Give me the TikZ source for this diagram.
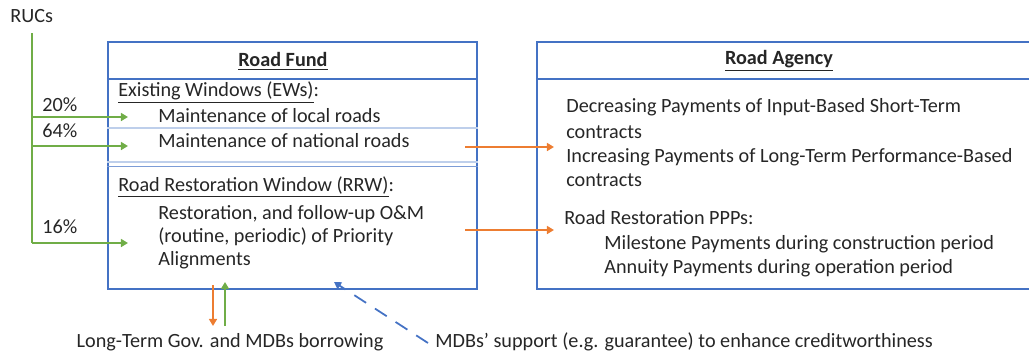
\documentclass[tikz,border=0pt]{standalone}
\usepackage{fontspec}
\setmainfont{Carlito}
\usetikzlibrary{arrows.meta}
\definecolor{boxblue}{RGB}{68,114,196}
\definecolor{lineblue}{RGB}{190,207,235}
\definecolor{rucgreen}{RGB}{112,173,71}
\definecolor{payorange}{RGB}{237,125,49}
\definecolor{textgrey}{RGB}{38,38,38}

\begin{document}
\begin{tikzpicture}[x=0.02cm, y=-0.02cm,
    font=\fontsize{11.5}{13}\selectfont, text=textgrey,
    every node/.style={inner sep=0pt},
    txt/.style={anchor=west},
    panel/.style={draw=boxblue, line width=1.3pt, minimum width=#1, minimum height=4.94cm},
    flow/.style={line width=1pt, -{Triangle[length=4pt, width=4.5pt]}}]
    \useasboundingbox (0,0) rectangle (1029,356);

    % boxes
    \node[panel=7.38cm] (fund) at (292.5,165.5) {};
    \node[panel=12cm] (agency) at (837,165.5) {};
    \draw[boxblue, line width=1.3pt] (fund.west |- 0,79) -- (fund.east |- 0,79);
    \draw[boxblue, line width=1.3pt] (agency.west |- 0,79) -- (agency.east |- 0,79);
    \draw[lineblue, line width=0.8pt] (fund.west |- 0,128) -- (fund.east |- 0,128);
    \draw[lineblue, line width=1pt] (fund.west |- 0,162) -- (fund.east |- 0,162);
    \draw[boxblue!70, line width=1pt] (fund.west |- 0,166.5) -- (fund.east |- 0,166.5);

    % headers
    \node (fundhead) at (283,61) {\textbf{\underline{Road Fund}}};
    \node (agencyhead) at (779,61) {\textbf{\underline{Road Agency}}};

    % road fund windows
    \node[txt] (ews) at (118,93) {\underline{Existing Windows (EWs)}:};
    \node[txt] (local) at (158,116) {Maintenance of local roads};
    \node[txt] (national) at (158,141) {Maintenance of national roads};
    \node[txt] (rrw) at (118,187) {\underline{Road Restoration Window (RRW)}:};
    \node[txt] (restore1) at (158,214) {Restoration, and follow-up O\&M};
    \node[txt] (restore2) at (158,237) {(routine, periodic) of Priority};
    \node[txt] (restore3) at (158,260) {Alignments};

    % road agency payments
    \node[txt] (decr1) at (566,107) {Decreasing Payments of Input-Based Short-Term};
    \node[txt] (decr2) at (566,132) {contracts};
    \node[txt] (incr1) at (566,157) {Increasing Payments of Long-Term Performance-Based};
    \node[txt] (incr2) at (566,180) {contracts};
    \node[txt] (ppp) at (564,218) {Road Restoration PPPs:};
    \node[txt] (milestone) at (604,244) {Milestone Payments during construction period};
    \node[txt] (annuity) at (604,268) {Annuity Payments during operation period};

    % RUCs split
    \node[txt] (rucs) at (10,16) {RUCs};
    \node[txt] (p20) at (42,105) {20\%};
    \node[txt] (p64) at (42,131) {64\%};
    \node[txt] (p16) at (42,227) {16\%};
    \coordinate (spinetop) at (32,33);
    \coordinate (spine20) at (32,117);
    \coordinate (spine64) at (32,146);
    \coordinate (spine16) at (32,243);
    \coordinate (in20) at (128,117);
    \coordinate (in64) at (128,146);
    \coordinate (in16) at (128,243);
    \draw[rucgreen, line width=1pt] (spinetop) -- (spine16);
    \draw[flow, rucgreen] (spine20) -- (in20);
    \draw[flow, rucgreen] (spine64) -- (in64);
    \draw[flow, rucgreen] (spine16) -- (in16);

    % payments to agency
    \coordinate (outEW) at (465,147);
    \coordinate (inEW) at (554,147);
    \coordinate (outRRW) at (465,230);
    \coordinate (inRRW) at (554,230);
    \draw[flow, payorange] (outEW) -- (inEW);
    \draw[flow, payorange] (outRRW) -- (inRRW);

    % borrowing and support
    \node (borrow) at (230,342) {Long-Term Gov. and MDBs borrowing};
    \node[txt] (support) at (435,342) {MDBs’ support (e.g. guarantee) to enhance creditworthiness};
    \coordinate (repay) at (213,285);
    \coordinate (repayend) at (213,326);
    \coordinate (loan) at (225,326);
    \coordinate (loanend) at (225,282);
    \draw[flow, payorange] (repay) -- (repayend);
    \draw[flow, rucgreen] (loan) -- (loanend);
    \coordinate (guarantee) at (428,343);
    \coordinate (guaranteeend) at (334,282);
    \draw[flow, boxblue, dash pattern=on 8pt off 6pt] (guarantee) -- (guaranteeend);
\end{tikzpicture}
\end{document}
